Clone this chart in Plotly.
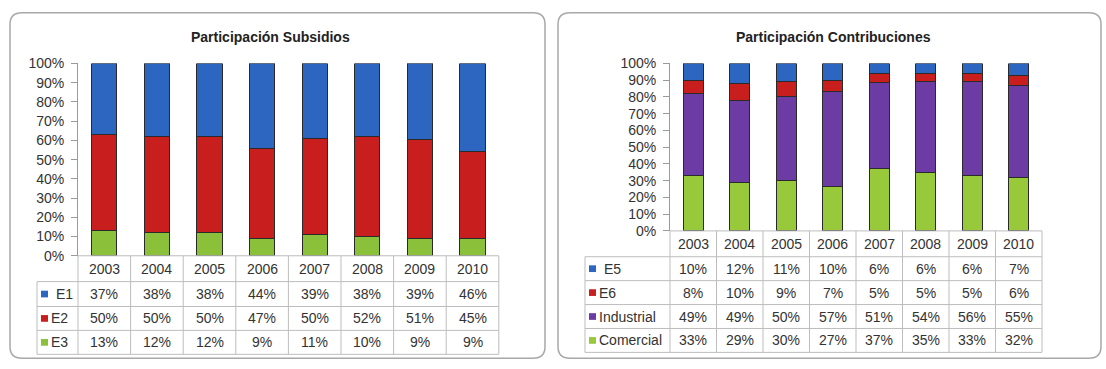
import plotly.graph_objects as go

# ---- data ----
years = ["2003", "2004", "2005", "2006", "2007", "2008", "2009", "2010"]

# Participación Subsidios (share per year, %)
sub_e1 = [37, 38, 38, 44, 39, 38, 39, 46]
sub_e2 = [50, 50, 50, 47, 50, 52, 51, 45]
sub_e3 = [13, 12, 12, 9, 11, 10, 9, 9]

# Participación Contribuciones (share per year, %)
con_e5 = [10, 12, 11, 10, 6, 6, 6, 7]
con_e6 = [8, 10, 9, 7, 5, 5, 5, 6]
con_ind = [49, 49, 50, 57, 51, 54, 56, 55]
con_com = [33, 29, 30, 27, 37, 35, 33, 32]

W, H = 1106, 369
BLUE, RED, GREEN, PURPLE, GREEN2 = "#2c66c0", "#c81f1e", "#8bc03a", "#6c3ba4", "#97c93a"
GRID = "#bdbdbd"
TXT = "#333333"
FONT = "Arial, Liberation Sans, sans-serif"


def px(x):
    return x / W


def py(y):
    return 1 - y / H


# panel geometry (pixels)
L = dict(x0=78, colw=52.6, top=58, base=259, rows=[259, 286, 312, 337, 362], lab=37,
         box=(10, 5, 545, 366), title_x=270)
R = dict(x0=670, colw=46.5, top=58, base=233, rows=[233, 260, 285, 310, 335, 360], lab=585,
         box=(558, 5, 1101, 366), title_x=833)

fig = go.Figure()

left_series = [("E3", sub_e3, GREEN), ("E2", sub_e2, RED), ("E1", sub_e1, BLUE)]
right_series = [("Comercial", con_com, GREEN2), ("Industrial", con_ind, PURPLE),
                ("E6", con_e6, RED), ("E5", con_e5, BLUE)]

for name, vals, col in left_series:
    fig.add_trace(go.Bar(x=years, y=vals, name=name, marker=dict(color=col, line=dict(color="#2a2a2a", width=1)),
                         width=0.48, xaxis="x", yaxis="y", showlegend=False))
for name, vals, col in right_series:
    fig.add_trace(go.Bar(x=years, y=vals, name=name, marker=dict(color=col, line=dict(color="#2a2a2a", width=1)),
                         width=0.43, xaxis="x2", yaxis="y2", showlegend=False))

shapes = []
annotations = []


def text_at(text, x, y, xref="paper", size=14, xanchor="center", color=TXT):
    annotations.append(dict(text=text, x=x, y=y, xref=xref, yref="paper", showarrow=False,
                            xanchor=xanchor, yanchor="middle",
                            font=dict(size=size, color=color, family=FONT)))


def add_panel(P, xref, title, table_rows):
    x_right = P["x0"] + 8 * P["colw"]
    # rounded frame
    bx0, by0, bx1, by1 = P["box"]
    r = 12
    path = (f"M {px(bx0 + r)} {py(by0)} L {px(bx1 - r)} {py(by0)} "
            f"Q {px(bx1)} {py(by0)} {px(bx1)} {py(by0 + r)} L {px(bx1)} {py(by1 - r)} "
            f"Q {px(bx1)} {py(by1)} {px(bx1 - r)} {py(by1)} L {px(bx0 + r)} {py(by1)} "
            f"Q {px(bx0)} {py(by1)} {px(bx0)} {py(by1 - r)} L {px(bx0)} {py(by0 + r)} "
            f"Q {px(bx0)} {py(by0)} {px(bx0 + r)} {py(by0)} Z")
    shapes.append(dict(type="path", path=path, xref="paper", yref="paper",
                       line=dict(color="#a8a8a8", width=1.5), layer="below"))
    text_at(f"<b>{title}</b>", px(P["title_x"]), py(30), size=14, color="#222")
    rows = P["rows"]
    # horizontal grid lines of the data table
    shapes.append(dict(type="line", xref="paper", yref="paper", x0=px(P["x0"]), x1=px(x_right),
                       y0=py(rows[0]), y1=py(rows[0]), line=dict(color=GRID, width=1)))
    for yy in rows[1:]:
        shapes.append(dict(type="line", xref="paper", yref="paper", x0=px(P["lab"]), x1=px(x_right),
                           y0=py(yy), y1=py(yy), line=dict(color=GRID, width=1)))
    # vertical grid lines
    for k in range(9):
        xx = P["x0"] + k * P["colw"]
        shapes.append(dict(type="line", xref="paper", yref="paper", x0=px(xx), x1=px(xx),
                           y0=py(rows[0]), y1=py(rows[-1]), line=dict(color=GRID, width=1)))
    shapes.append(dict(type="line", xref="paper", yref="paper", x0=px(P["lab"]), x1=px(P["lab"]),
                       y0=py(rows[1]), y1=py(rows[-1]), line=dict(color=GRID, width=1)))
    # header row: years (category index on the panel's x axis)
    yc = (rows[0] + rows[1]) / 2
    for i, yr in enumerate(years):
        text_at(yr, i, py(yc), xref=xref)
    # series rows
    for r_i, (name, vals, col, gap) in enumerate(table_rows):
        yc = (rows[r_i + 1] + rows[r_i + 2]) / 2
        sx = P["lab"] + 4
        shapes.append(dict(type="rect", xref="paper", yref="paper", x0=px(sx), x1=px(sx + 7),
                           y0=py(yc + 3.5), y1=py(yc - 3.5), fillcolor=col, line=dict(width=0)))
        text_at(name, px(sx + 8 + gap), py(yc), xanchor="left")
        for i, v in enumerate(vals):
            text_at(f"{v}%", i, py(yc), xref=xref)


add_panel(L, "x", "Participación Subsidios",
          [("E1", sub_e1, BLUE, 5), ("E2", sub_e2, RED, 0), ("E3", sub_e3, GREEN, 0)])
add_panel(R, "x2", "Participación Contribuciones",
          [("E5", con_e5, BLUE, 5), ("E6", con_e6, RED, 0), ("Industrial", con_ind, PURPLE, 0),
           ("Comercial", con_com, GREEN2, 0)])

yaxis_style = dict(range=[0, 100], dtick=10, ticksuffix="%", showgrid=False, zeroline=False,
                   showline=True, linecolor="#9a9a9a", ticks="outside", ticklen=6, tickcolor="#9a9a9a",
                   ticklabelstandoff=4,
                   tickfont=dict(size=14, color=TXT, family=FONT), fixedrange=True)
xaxis_style = dict(type="category", range=[-0.5, 7.5], showticklabels=False, showgrid=False,
                   zeroline=False, showline=False, ticks="", fixedrange=True)

fig.update_layout(
    width=W, height=H, margin=dict(l=0, r=0, t=0, b=0),
    paper_bgcolor="white", plot_bgcolor="white",
    barmode="stack", barnorm="percent",
    xaxis=dict(domain=[px(L["x0"]), px(L["x0"] + 8 * L["colw"])], anchor="y", **xaxis_style),
    yaxis=dict(domain=[py(L["base"]), py(L["top"])], anchor="x", **yaxis_style),
    xaxis2=dict(domain=[px(R["x0"]), px(R["x0"] + 8 * R["colw"])], anchor="y2", **xaxis_style),
    yaxis2=dict(domain=[py(R["base"]), py(R["top"])], anchor="x2", **yaxis_style),
    shapes=shapes, annotations=annotations,
    font=dict(family=FONT, color=TXT),
)

fig.write_html("out.html")
